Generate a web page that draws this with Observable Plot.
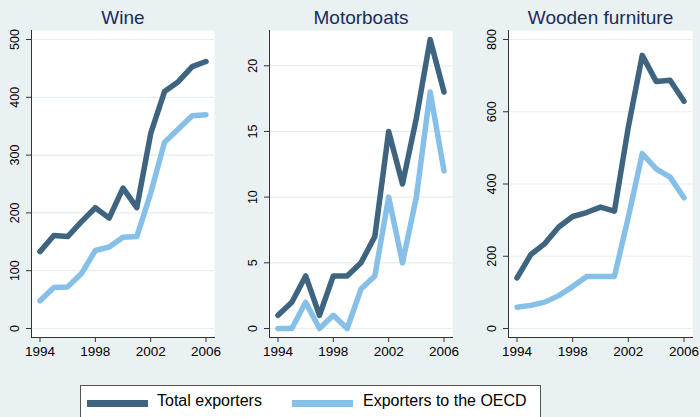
<!DOCTYPE html>
<html><head><meta charset="utf-8">
<script src="https://cdn.jsdelivr.net/npm/d3@7"></script>
<script src="https://cdn.jsdelivr.net/npm/@observablehq/plot@0.6"></script>
<style>
body{margin:0;background:#eaf1f3;font-family:"Liberation Sans",Arial,sans-serif;}
#wrap{position:relative;width:700px;height:417px;overflow:hidden;background:#eaf1f3;}
.panel{position:absolute;top:0;}
#legend{position:absolute;left:80px;top:385px;width:461px;height:40px;background:#fff;border:1px solid #555;box-sizing:border-box;}
.sw{position:absolute;top:14px;width:61px;height:7px;}
.lt{position:absolute;top:6px;font-size:16px;color:#000;white-space:nowrap;font-family:"Liberation Sans",Arial,sans-serif;}
</style></head>
<body><div id="wrap"></div>
<script>
const years = [1994,1995,1996,1997,1998,1999,2000,2001,2002,2003,2004,2005,2006];
const seriesNames = ["Total exporters","Exporters to the OECD"];
const seriesColors = ["#3e6480","#86c0e9"];
const titles = ["Wine","Motorboats","Wooden furniture"];
const wineTotal = [133,161,159,185,209,191,243,209,337,410,427,453,462];
const wineOECD  = [48,71,72,95,135,141,158,159,234,322,345,368,370];
const boatsTotal = [1,2,4,1,4,4,5,7,15,11,16,22,18];
const boatsOECD  = [0,0,2,0,1,0,3,4,10,5,10,18,12];
const woodTotal = [140,205,235,281,310,321,336,325,558,756,684,687,629];
const woodOECD  = [59,64,73,91,116,144,144,144,308,484,442,419,362];
const xTicks = [1994,1998,2002,2006];
const wineTicks = [0,100,200,300,400,500];
const boatTicks = [0,5,10,15,20];
const woodTicks = [0,200,400,600,800];

const panels = [
  {title: titles[0], total: wineTotal, oecd: wineOECD, ticks: wineTicks, domain:[0,500], left:0, ml:31, mr:16},
  {title: titles[1], total: boatsTotal, oecd: boatsOECD, ticks: boatTicks, domain:[0,22], left:235, ml:34, mr:13},
  {title: titles[2], total: woodTotal, oecd: woodOECD, ticks: woodTicks, domain:[0,800], left:470, ml:38, mr:8}
];

const FF = "'Liberation Sans', Arial, sans-serif";
const wrap = document.getElementById("wrap");
for (const p of panels) {
  const rows = [];
  years.forEach((y,i)=>{ rows.push({year:y, value:p.total[i], s:seriesNames[0]}); });
  years.forEach((y,i)=>{ rows.push({year:y, value:p.oecd[i], s:seriesNames[1]}); });
  const chart = Plot.plot({
    width: 230, height: 370,
    marginLeft: p.ml, marginRight: p.mr, marginTop: 30, marginBottom: 33,
    style: {background: "transparent", fontFamily: FF, fontSize: "13px", color:"#000"},
    x: {domain:[1994,2006], insetLeft: 8.5, insetRight: 8.5},
    y: {domain: p.domain, insetTop: 9, insetBottom: 9},
    color: {domain: seriesNames, range: seriesColors},
    marks: [
      Plot.frame({fill:"white", stroke:"none"}),
      Plot.gridY(p.ticks, {stroke:"#e4eef0", strokeOpacity:1, strokeWidth:1.2}),
      Plot.frame({anchor:"left", stroke:"#333"}),
      Plot.frame({anchor:"bottom", stroke:"#333"}),
      Plot.axisX(xTicks, {tickFormat: () => "", tickSize: 5, label: null, stroke:"#333"}),
      Plot.axisY(p.ticks, {tickFormat: () => "", tickSize: 5, label: null, stroke:"#333"}),
      Plot.text(xTicks, {x: d => d, text: d => String(d), frameAnchor: "bottom", lineAnchor: "top", dy: 9, fontSize: 13.5, fontFamily: FF, fill: "#000"}),
      Plot.text(p.ticks, {y: d => d, text: d => String(d), frameAnchor: "left", rotate: -90, textAnchor: "middle", lineAnchor: "bottom", dx: -13, fontSize: 12.5, fontFamily: FF, fill: "#000"}),
      Plot.line(rows, {x:"year", y:"value", z:"s", stroke:"s", strokeWidth:5.5, strokeLinejoin:"round", strokeLinecap:"round"}),
      Plot.text([p.title], {frameAnchor:"top", lineAnchor:"bottom", dy:-7, fontSize:19, fontFamily: FF, fill:"#1c2b5c"})
    ]
  });
  chart.classList.add("panel");
  chart.style.left = p.left + "px";
  wrap.appendChild(chart);
}

const leg = document.createElement("div");
leg.id = "legend";
const pos = [[6,76],[211,282]];
seriesNames.forEach((n,i)=>{
  const sw = document.createElement("div");
  sw.className = "sw"; sw.style.left = pos[i][0]+"px"; sw.style.background = seriesColors[i];
  const t = document.createElement("div");
  t.className = "lt"; t.style.left = pos[i][1]+"px"; t.textContent = n;
  leg.appendChild(sw); leg.appendChild(t);
});
wrap.appendChild(leg);
</script></body></html>
